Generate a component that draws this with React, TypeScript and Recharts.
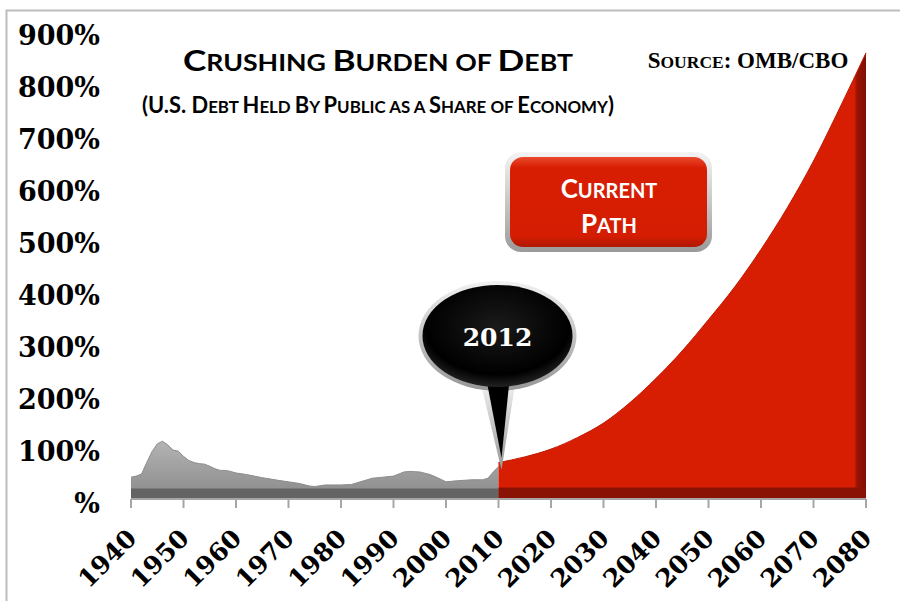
import React from 'react';
import { AreaChart, Area, XAxis, YAxis, ReferenceArea, ReferenceDot } from 'recharts';

// Historical debt held by public, % of GDP
const histYears = [1940, 1941, 1942, 1943, 1944, 1945, 1946, 1947, 1948, 1949, 1950, 1951, 1952, 1953, 1954, 1955, 1956, 1957, 1958, 1959, 1960, 1962, 1965, 1968, 1970, 1972, 1974, 1975, 1977, 1980, 1982, 1984, 1986, 1988, 1990, 1992, 1993, 1995, 1997, 1999, 2000, 2002, 2005, 2007, 2008, 2009, 2010];
const histValues = [42, 44, 48, 70, 91, 106, 111, 104, 94, 92, 82, 74, 70, 68, 67, 63, 58, 55, 55, 53, 50, 47, 41, 36, 33, 30, 25, 24, 27, 27, 28, 34, 40, 42, 44, 52, 53, 52, 47, 38, 33, 35, 37, 37, 40, 52, 62];

// Current path projection
const projYears = [2010, 2015, 2020, 2025, 2030, 2035, 2040, 2045, 2050, 2055, 2060, 2065, 2070, 2075, 2080];
const projValues = [70, 81, 96, 118, 146, 185, 232, 285, 345, 408, 480, 560, 650, 752, 858];

const xTicks = [1940, 1950, 1960, 1970, 1980, 1990, 2000, 2010, 2020, 2030, 2040, 2050, 2060, 2070, 2080];
const yTicks = [0, 100, 200, 300, 400, 500, 600, 700, 800, 900];
const yTickLabels = ['%', '100%', '200%', '300%', '400%', '500%', '600%', '700%', '800%', '900%'];

const allYears = Array.from(new Set([...histYears, ...projYears])).sort((a, b) => a - b);
const data = allYears.map((year) => {
  const hi = histYears.indexOf(year);
  const pi = projYears.indexOf(year);
  return {
    year,
    hist: hi >= 0 ? histValues[hi] : null,
    proj: pi >= 0 ? projValues[pi] : null,
  };
});

const SERIF = "'DejaVu Serif', serif";
const TIMES = "'Liberation Serif', serif";
const SANS = "Lato, 'Open Sans', sans-serif";

const YTick = (props: any) => {
  const { y, payload } = props;
  const idx = yTicks.indexOf(payload.value);
  return (
    <text x={100} y={y + 14} textAnchor="end" fontFamily={SERIF} fontWeight="bold" fontSize={27} fill="#000">
      {yTickLabels[idx]}
    </text>
  );
};

const XTick = (props: any) => {
  const { x, y, payload } = props;
  const ax = x + 7;
  const ay = y + 32;
  return (
    <text x={ax} y={ay} transform={`rotate(-45 ${ax} ${ay})`} textAnchor="end" fontFamily={SERIF} fontWeight="bold" fontSize={25} fill="#000">
      {payload.value}
    </text>
  );
};

const Balloon = (props: any) => {
  const { cx, cy } = props;
  const tx = cx + 3;
  const ty = cy;
  const ex = cx - 1;
  const ey = cy - 134;
  return (
    <g>
      <path d={`M ${ex - 17} ${ey + 46} L ${tx} ${ty} L ${ex + 18} ${ey + 46} Z`} fill="url(#silverGrad)" />
      <ellipse cx={ex} cy={ey} rx={79} ry={55} fill="url(#silverGrad)" />
      <path d={`M ${ex - 11} ${ey + 44} L ${tx} ${ty - 12} L ${ex + 12} ${ey + 44} Z`} fill="#000" />
      <ellipse cx={ex} cy={ey} rx={75} ry={51} fill="url(#blackGrad)" />
      <text x={ex} y={ey + 10} textAnchor="middle" fontFamily={SERIF} fontWeight="bold" fontSize={25} fill="#fff">
        2012
      </text>
    </g>
  );
};

export default function App() {
  return (
    <div style={{ position: 'absolute', left: 0, top: 0, width: 900, height: 601, background: '#fff' }}>
      <AreaChart width={900} height={601} data={data} margin={{ top: 31, right: 34, bottom: 0, left: 0 }}>
        <defs>
          <linearGradient id="grayGrad" x1="0" y1="0" x2="0" y2="1">
            <stop offset="0%" stopColor="#b4b4b4" />
            <stop offset="60%" stopColor="#9a9a9a" />
            <stop offset="100%" stopColor="#8a8a8a" />
          </linearGradient>
          <linearGradient id="redGrad" x1="0" y1="0" x2="1" y2="0">
            <stop offset="0%" stopColor="#d81e02" />
            <stop offset="96.8%" stopColor="#d81e02" />
            <stop offset="97.5%" stopColor="#9a1404" />
            <stop offset="100%" stopColor="#7e0f03" />
          </linearGradient>
          <linearGradient id="silverGrad" x1="0" y1="0" x2="0" y2="1">
            <stop offset="0%" stopColor="#f2f2f2" />
            <stop offset="50%" stopColor="#c4c4c4" />
            <stop offset="100%" stopColor="#969696" />
          </linearGradient>
          <radialGradient id="blackGrad" cx="50%" cy="40%" r="60%">
            <stop offset="0%" stopColor="#1a1a1a" />
            <stop offset="80%" stopColor="#000" />
            <stop offset="100%" stopColor="#222" />
          </radialGradient>
        </defs>
        <XAxis
          dataKey="year"
          type="number"
          domain={[1940, 2080]}
          ticks={xTicks}
          interval={0}
          height={102}
          axisLine={{ stroke: '#a6a6a6', strokeWidth: 2 }}
          tickLine={{ stroke: '#a6a6a6', strokeWidth: 2 }}
          tickSize={9}
          tickMargin={0}
          tick={<XTick />}
        />
        <YAxis
          type="number"
          domain={[0, 900]}
          ticks={yTicks}
          interval={0}
          width={131}
          axisLine={false}
          tickLine={false}
          tick={<YTick />}
        />
        <Area type="linear" dataKey="hist" stroke="#8c8c8c" strokeWidth={1} fill="url(#grayGrad)" fillOpacity={1} isAnimationActive={false} connectNulls={false} />
        <Area type="monotone" dataKey="proj" stroke="#c01a02" strokeWidth={1} fill="url(#redGrad)" fillOpacity={1} isAnimationActive={false} connectNulls={false} />
        <ReferenceArea x1={1940} x2={2010} y1={0} y2={20} fill="#646464" fillOpacity={1} stroke="none" />
        <ReferenceArea x1={2010} x2={2080} y1={0} y2={22} fill="#8a1204" fillOpacity={1} stroke="none" />
        <ReferenceDot x={2010} y={56} r={0} ifOverflow="visible" shape={<Balloon />} />
      </AreaChart>
      <svg width={900} height={601} style={{ position: 'absolute', left: 0, top: 0, pointerEvents: 'none' }}>
        <rect x={6.5} y={10.5} width={920} height={620} fill="none" stroke="#bdbdbd" strokeWidth={2} />
        <text x={378} y={71} textAnchor="middle" fontFamily={SANS} fontWeight="bold" fill="#000" textLength={390} lengthAdjust="spacingAndGlyphs">
          <tspan fontSize={29}>C</tspan>
          <tspan fontSize={22}>RUSHING </tspan>
          <tspan fontSize={29}>B</tspan>
          <tspan fontSize={22}>URDEN OF </tspan>
          <tspan fontSize={29}>D</tspan>
          <tspan fontSize={22}>EBT</tspan>
        </text>
        <text x={378} y={113} textAnchor="middle" fontFamily={SANS} fontWeight="bold" fill="#000" textLength={472} lengthAdjust="spacingAndGlyphs">
          <tspan fontSize={22}>(U.S. D</tspan>
          <tspan fontSize={17}>EBT </tspan>
          <tspan fontSize={22}>H</tspan>
          <tspan fontSize={17}>ELD </tspan>
          <tspan fontSize={22}>B</tspan>
          <tspan fontSize={17}>Y </tspan>
          <tspan fontSize={22}>P</tspan>
          <tspan fontSize={17}>UBLIC AS A </tspan>
          <tspan fontSize={22}>S</tspan>
          <tspan fontSize={17}>HARE OF </tspan>
          <tspan fontSize={22}>E</tspan>
          <tspan fontSize={17}>CONOMY</tspan>
          <tspan fontSize={22}>)</tspan>
        </text>
        <text x={748} y={68} textAnchor="middle" fontFamily={TIMES} fontWeight="bold" fill="#000">
          <tspan fontSize={23}>S</tspan>
          <tspan fontSize={17.5}>OURCE</tspan>
          <tspan fontSize={23}>: OMB/CBO</tspan>
        </text>
        <defs>
          <linearGradient id="boxHi" x1="0" y1="0" x2="0" y2="1">
            <stop offset="0%" stopColor="#ea4a2e" />
            <stop offset="12%" stopColor="#d81e02" />
            <stop offset="88%" stopColor="#d41d02" />
            <stop offset="100%" stopColor="#b01702" />
          </linearGradient>
          <linearGradient id="boxBorder" x1="0" y1="0" x2="0" y2="1">
            <stop offset="0%" stopColor="#f4f4f4" />
            <stop offset="100%" stopColor="#9a9a9a" />
          </linearGradient>
        </defs>
        <rect x={505} y={152} width={207} height={100} rx={16} fill="url(#boxBorder)" />
        <rect x={510} y={157} width={197} height={90} rx={13} fill="url(#boxHi)" />
        <text x={609} y={198} textAnchor="middle" fontFamily={SANS} fontWeight="bold" fill="#fff">
          <tspan fontSize={26}>C</tspan>
          <tspan fontSize={20}>URRENT</tspan>
        </text>
        <text x={609} y={233} textAnchor="middle" fontFamily={SANS} fontWeight="bold" fill="#fff">
          <tspan fontSize={26}>P</tspan>
          <tspan fontSize={20}>ATH</tspan>
        </text>
      </svg>
    </div>
  );
}
